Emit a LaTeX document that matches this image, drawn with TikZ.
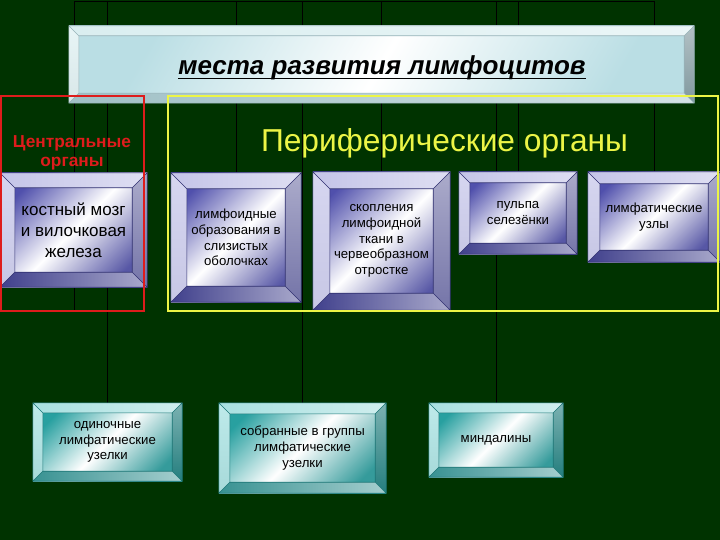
\documentclass[tikz,border=0pt]{standalone}
\usepackage{fontspec}
\setmainfont{Liberation Sans}
\definecolor{bgreen}{RGB}{0,51,0}
\definecolor{cred}{RGB}{222,28,28}
\definecolor{cyel}{RGB}{236,245,70}
% purple boxes
\definecolor{puface}{RGB}{80,80,172}
\definecolor{putop}{RGB}{196,196,232}
\definecolor{puleft}{RGB}{214,214,240}
\definecolor{puright}{RGB}{116,116,168}
\definecolor{pubot}{RGB}{64,64,140}
\definecolor{puline}{RGB}{48,48,112}
% teal boxes
\definecolor{teface}{RGB}{40,160,160}
\definecolor{tetop}{RGB}{168,224,224}
\definecolor{teleft}{RGB}{190,234,234}
\definecolor{teright}{RGB}{36,126,126}
\definecolor{tebot}{RGB}{56,146,146}
\definecolor{teline}{RGB}{28,118,118}
% title box
\definecolor{tiface}{RGB}{186,222,228}
\definecolor{titop}{RGB}{218,238,240}
\definecolor{tileft}{RGB}{232,245,246}
\definecolor{tiright}{RGB}{128,152,158}
\definecolor{tibot}{RGB}{160,192,198}
\definecolor{tiline}{RGB}{150,178,184}
\pgfdeclarelayer{back}
\pgfsetlayers{back,main}
\tikzset{
  box/.style={inner sep=0pt, align=center, text=black},
  pubox/.style={box, top color=puface, bottom color=puface!85!gray, middle color=white, shading angle=45},
  tebox/.style={box, top color=teface, bottom color=teface!85!gray, middle color=white, shading angle=45},
  tibox/.style={box, top color=tiface, bottom color=tiface, middle color=white, shading angle=60},
  small/.style={font=\fontsize{13.2}{15.8}\selectfont},
  link/.style={black, line width=.9pt},
  frame/.style={line width=2.2pt}
}
% bevel round a box: node, width, colour set
\newcommand\bevel[3]{%
  \shade[left color=#3top, right color=#3top!55!white] (#1.north west) -- (#1.north east)
    -- ([shift={(-#2,#2)}]#1.north east) -- ([shift={(#2,#2)}]#1.north west) -- cycle;
  \shade[top color=#3left, bottom color=#3left!85!#3right] (#1.north west) -- ([shift={(#2,#2)}]#1.north west)
    -- ([shift={(#2,-#2)}]#1.south west) -- (#1.south west) -- cycle;
  \shade[top color=#3right!60!white, bottom color=#3right] (#1.north east) -- (#1.south east)
    -- ([shift={(-#2,-#2)}]#1.south east) -- ([shift={(-#2,#2)}]#1.north east) -- cycle;
  \shade[left color=#3bot, right color=#3bot!45!white] (#1.south west) -- ([shift={(#2,-#2)}]#1.south west)
    -- ([shift={(-#2,-#2)}]#1.south east) -- (#1.south east) -- cycle;
  \draw[#3line, line width=.6pt] (#1.north west) rectangle (#1.south east)
    ([shift={(#2,#2)}]#1.north west) rectangle ([shift={(-#2,-#2)}]#1.south east)
    (#1.north west) -- ([shift={(#2,#2)}]#1.north west)
    (#1.north east) -- ([shift={(-#2,#2)}]#1.north east)
    (#1.south east) -- ([shift={(-#2,-#2)}]#1.south east)
    (#1.south west) -- ([shift={(#2,-#2)}]#1.south west);
}
\begin{document}
\begin{tikzpicture}[x=1pt,y=-1pt]
\useasboundingbox (0,0) rectangle (720,540);

% title
\node[tibox, minimum width=625, minimum height=77] (ttl) at (381.5,64.5) {};
\bevel{ttl}{10}{ti}
\node[anchor=base, inner sep=0pt, font=\fontsize{26}{30}\selectfont\bfseries\itshape] (ttltxt) at (382,75) {места развития лимфоцитов};
\draw[line width=1.5pt] ([yshift=-3.5pt]ttltxt.base west) -- ([yshift=-3.5pt]ttltxt.base east);

% headings
\node[text=cred, align=center, font=\fontsize{17.3}{19.5}\selectfont\bfseries] (centr) at (72,153) {Центральные\\органы};
\node[text=cyel, anchor=base, font=\fontsize{31.7}{36}\selectfont] (perif) at (444.5,152) {Периферические органы};

% top row
\node[pubox, minimum width=147, minimum height=114, font=\fontsize{17}{21}\selectfont] (kostn) at (73.5,230) {костный мозг\\и вилочковая\\железа};
\bevel{kostn}{15}{pu}
\node[pubox, small, minimum width=130, minimum height=129] (limfo) at (236,237.5) {лимфоидные\\образования в\\слизистых\\оболочках};
\bevel{limfo}{16}{pu}
\node[pubox, small, minimum width=137, minimum height=138] (skopl) at (381.5,241) {скопления\\лимфоидной\\ткани в\\червеобразном\\отростке};
\bevel{skopl}{17}{pu}
\node[pubox, small, minimum width=118, minimum height=82] (pulpa) at (518,213) {пульпа\\селезёнки};
\bevel{pulpa}{11}{pu}
\node[pubox, small, minimum width=132, minimum height=90] (uzly) at (654,217) {лимфатические\\узлы};
\bevel{uzly}{12}{pu}

% bottom row
\node[tebox, small, minimum width=149, minimum height=78] (odin) at (107.5,442) {одиночные\\лимфатические\\узелки};
\bevel{odin}{10}{te}
\node[tebox, small, minimum width=167, minimum height=90] (sobr) at (302.5,448) {собранные в группы\\лимфатические\\узелки};
\bevel{sobr}{11}{te}
\node[tebox, small, minimum width=134, minimum height=74] (mind) at (496,440) {миндалины};
\bevel{mind}{10}{te}

% frames
\draw[frame, cred] (1,96) rectangle (144,311);
\draw[frame, cyel] (168,96) rectangle (718,311);

% links behind
\begin{pgfonlayer}{back}
\fill[bgreen] (0,0) rectangle (720,540);
\coordinate (hubL) at (74,1);
\coordinate (hubR) at (655,1);
\coordinate (kend) at (74,311);
\draw[link] (hubL) -- (hubR);
\draw[link] (hubL) -- (kend);
\draw[link] (odin |- hubL) -- (odin.north);
\draw[link] (limfo |- hubL) -- (limfo.north);
\draw[link] (sobr |- hubL) -- (sobr.north);
\draw[link] (skopl |- hubL) -- (skopl.north);
\draw[link] (mind |- hubL) -- (mind.north);
\draw[link] (pulpa |- hubL) -- (pulpa.north);
\draw[link] (uzly |- hubL) -- (uzly.north);
\end{pgfonlayer}
\end{tikzpicture}
\end{document}
